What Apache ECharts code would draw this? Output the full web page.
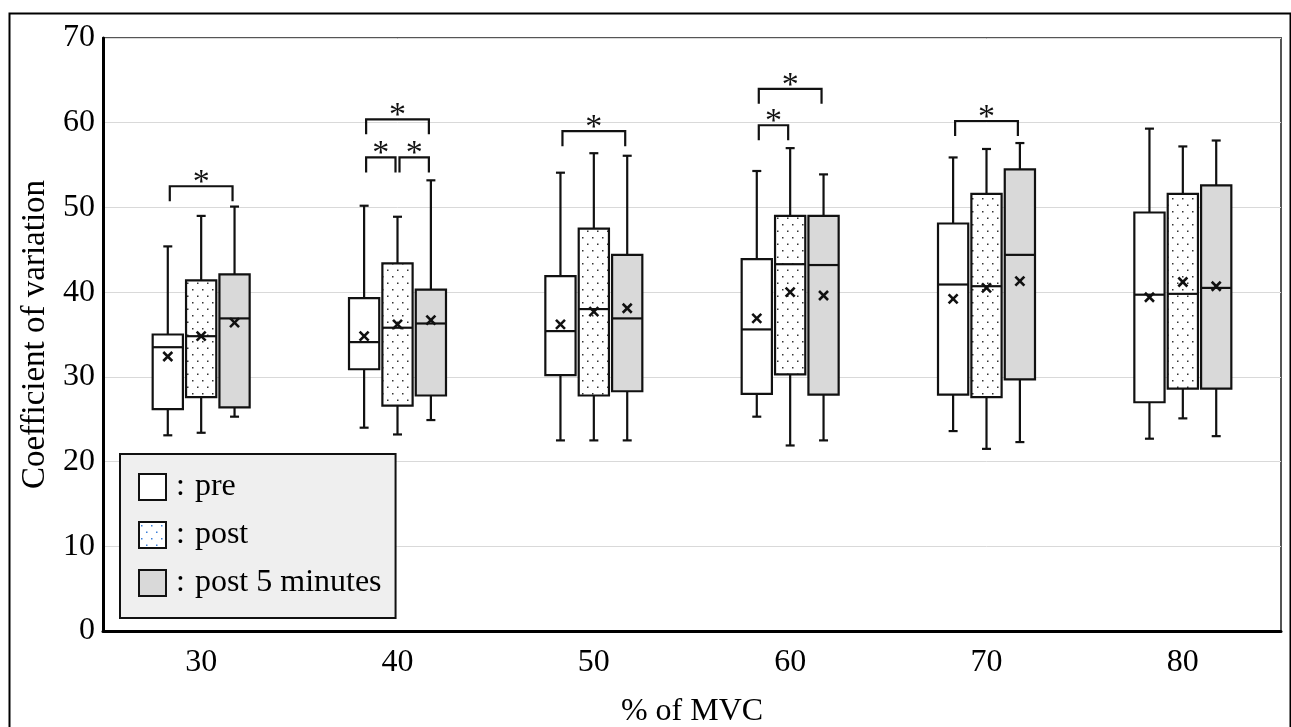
<!DOCTYPE html>
<html>
<head>
<meta charset="utf-8">
<script src="https://cdn.jsdelivr.net/npm/echarts@6/dist/echarts.min.js"></script>
<style>
  html, body { margin: 0; padding: 0; background: #fff; }
  #chart { width: 1291px; height: 727px; }
</style>
</head>
<body>
<div id="chart"></div>
<script>
// % of MVC levels on the category axis
const categories = ['30', '40', '50', '60', '70', '80'];
const yTicks = [0, 10, 20, 30, 40, 50, 60, 70];

// Box statistics per level: [min, Q1, median, Q3, max]
const preBox = [
  [23.1, 26.2, 33.5, 35.0, 45.4],
  [24.0, 30.9, 34.1, 39.3, 50.2],
  [22.5, 30.2, 35.4, 41.9, 54.1],
  [25.3, 28.0, 35.6, 43.9, 54.3],
  [23.6, 27.9, 40.9, 48.1, 55.9],
  [22.7, 27.0, 39.7, 49.4, 59.3]
];
const preMean = [32.4, 34.8, 36.2, 36.9, 39.2, 39.4];

const postBox = [
  [23.4, 27.6, 34.8, 41.4, 49.0],
  [23.2, 26.6, 35.8, 43.4, 48.9],
  [22.5, 27.8, 38.0, 47.5, 56.4],
  [21.9, 30.3, 43.3, 49.0, 57.0],
  [21.5, 27.6, 40.7, 51.6, 56.9],
  [25.1, 28.6, 39.8, 51.6, 57.2]
];
const postMean = [34.8, 36.2, 37.7, 40.0, 40.5, 41.2];

const post5Box = [
  [25.3, 26.4, 36.9, 42.1, 50.1],
  [24.9, 27.8, 36.3, 40.3, 53.2],
  [22.5, 28.3, 36.9, 44.4, 56.1],
  [22.5, 27.9, 43.2, 49.0, 53.9],
  [22.3, 29.7, 44.4, 54.5, 57.6],
  [23.0, 28.6, 40.5, 52.6, 57.9]
];
const post5Mean = [36.4, 36.7, 38.1, 39.6, 41.3, 40.7];

// Significant pairs: [level index, first condition, second condition, bracket height]
const sigBrackets = [
  [0, 0, 2, 52.5],
  [1, 0, 2, 60.4],
  [1, 0, 1, 55.9],
  [1, 1, 2, 55.9],
  [2, 0, 2, 59.0],
  [3, 0, 2, 64.0],
  [3, 0, 1, 59.7],
  [4, 0, 2, 60.2]
];

const FONT = 'Liberation Serif, Times New Roman, serif';
const slotOffset = [-0.17, 0, 0.17]; // fraction of band width for pre / post / post 5 min

function dotPattern(color) {
  const c = document.createElement('canvas');
  c.width = 10; c.height = 13;
  const g = c.getContext('2d');
  g.fillStyle = '#fff';
  g.fillRect(0, 0, 10, 13);
  g.fillStyle = color;
  g.fillRect(2, 3, 1.5, 1.5);
  g.fillRect(7, 9.5, 1.5, 1.5);
  return { image: c, repeat: 'repeat' };
}
const boxDots = dotPattern('#333');
const legendDots = dotPattern('#3b7fd9');

function rows(box, mean) {
  return box.map((b, i) => [i].concat(b, [mean[i]]));
}

function boxRenderer(slot, fill) {
  return function (params, api) {
    const cat = api.value(0);
    const band = api.size([1, 0])[0];
    const cx = api.coord([cat, 0])[0] + band * slotOffset[slot];
    const half = band * 0.077;
    const py = i => api.coord([cat, api.value(i)])[1];
    const yMin = py(1), yQ1 = py(2), yMed = py(3), yQ3 = py(4), yMax = py(5), yMean = py(6);
    const cap = 4.5, m = 4.5;
    const seg = (x1, y1, x2, y2, w) => ({
      type: 'line', shape: { x1, y1, x2, y2 },
      style: { stroke: '#111', lineWidth: w || 2.2 }
    });
    return {
      type: 'group',
      children: [
        seg(cx, yMax, cx, yQ3), seg(cx - cap, yMax, cx + cap, yMax),
        seg(cx, yQ1, cx, yMin), seg(cx - cap, yMin, cx + cap, yMin),
        { type: 'rect', shape: { x: cx - half, y: yQ3, width: 2 * half, height: yQ1 - yQ3 },
          style: { fill: fill, stroke: '#111', lineWidth: 2.2 } },
        seg(cx - half, yMed, cx + half, yMed),
        seg(cx - m, yMean - m, cx + m, yMean + m, 2.6),
        seg(cx - m, yMean + m, cx + m, yMean - m, 2.6)
      ]
    };
  };
}

function bracketRenderer(params, api) {
  const cat = api.value(0), a = api.value(1), b = api.value(2), lvl = api.value(3);
  const band = api.size([1, 0])[0];
  const base = api.coord([cat, lvl]);
  const x1 = base[0] + band * slotOffset[a] + 2;
  const x2 = base[0] + band * slotOffset[b] - 2;
  const y = base[1];
  const leg = 15;
  return {
    type: 'group',
    children: [
      { type: 'polyline', shape: { points: [[x1, y + leg], [x1, y], [x2, y], [x2, y + leg]] },
        style: { stroke: '#111', lineWidth: 2.2, fill: null } },
      { type: 'text', x: (x1 + x2) / 2, y: y - 3,
        style: { text: '*', fill: '#111', font: '34px ' + FONT, align: 'center', verticalAlign: 'middle' } }
    ]
  };
}

const chart = echarts.init(document.getElementById('chart'));
chart.setOption({
  animation: false,
  backgroundColor: '#fff',
  textStyle: { fontFamily: FONT },
  graphic: [{
    type: 'rect', left: 7, top: 11, z: 100,
    shape: { width: 1281, height: 740 },
    style: { fill: null, stroke: '#000', lineWidth: 2 }
  }],
  grid: {
    left: 103, top: 38, width: 1178, height: 593,
    outerBoundsMode: 'none', containLabel: false,
    show: true, borderColor: '#555', borderWidth: 2, backgroundColor: '#fff'
  },
  legend: {
    orient: 'vertical', left: 120, top: 454,
    selectedMode: false,
    backgroundColor: '#efefef', borderColor: '#111', borderWidth: 2,
    padding: [17, 14, 19, 18],
    itemWidth: 27, itemHeight: 26, itemGap: 16,
    icon: 'rect',
    data: [
      { name: 'pre', itemStyle: { color: '#fff', borderColor: '#111', borderWidth: 2 } },
      { name: 'post', itemStyle: { color: legendDots, borderColor: '#111', borderWidth: 2 } },
      { name: 'post 5 minutes', itemStyle: { color: '#d9d9d9', borderColor: '#111', borderWidth: 2 } }
    ],
    formatter: name => '{c|:}{t|' + name + '}',
    textStyle: {
      color: '#000', fontFamily: FONT, fontSize: 32, lineHeight: 26,
      rich: {
        c: { fontSize: 32, fontFamily: FONT, lineHeight: 26, padding: [0, 10, 0, 5] },
        t: { fontSize: 32, fontFamily: FONT, lineHeight: 26 }
      }
    }
  },
  xAxis: {
    type: 'category', data: categories,
    axisLine: { lineStyle: { color: '#000', width: 3 } },
    axisTick: { show: false },
    axisLabel: { color: '#000', fontSize: 32, fontFamily: FONT, margin: 16 },
    name: '% of MVC', nameLocation: 'middle', nameGap: 65,
    nameTextStyle: { color: '#000', fontSize: 32, fontFamily: FONT }
  },
  yAxis: {
    type: 'value', min: yTicks[0], max: yTicks[yTicks.length - 1], interval: 10,
    axisLine: { show: true, lineStyle: { color: '#000', width: 3 } },
    axisTick: { show: false },
    splitLine: { lineStyle: { color: '#d9d9d9', width: 1 } },
    axisLabel: { color: '#000', fontSize: 32, fontFamily: FONT, margin: 8 },
    name: 'Coefficient of variation', nameLocation: 'middle', nameGap: 48, nameRotate: 90,
    nameTextStyle: { color: '#000', fontSize: 33, fontFamily: FONT }
  },
  series: [
    { type: 'custom', name: 'pre', renderItem: boxRenderer(0, '#fff'),
      encode: { x: 0, y: [1, 2, 3, 4, 5, 6] }, data: rows(preBox, preMean),
      itemStyle: { color: '#fff' }, z: 3 },
    { type: 'custom', name: 'post', renderItem: boxRenderer(1, boxDots),
      encode: { x: 0, y: [1, 2, 3, 4, 5, 6] }, data: rows(postBox, postMean),
      itemStyle: { color: '#fff' }, z: 3 },
    { type: 'custom', name: 'post 5 minutes', renderItem: boxRenderer(2, '#d9d9d9'),
      encode: { x: 0, y: [1, 2, 3, 4, 5, 6] }, data: rows(post5Box, post5Mean),
      itemStyle: { color: '#d9d9d9' }, z: 3 },
    { type: 'custom', name: 'significance', renderItem: bracketRenderer,
      encode: { x: 0, y: 3 }, data: sigBrackets, z: 4 }
  ]
});
</script>
</body>
</html>
